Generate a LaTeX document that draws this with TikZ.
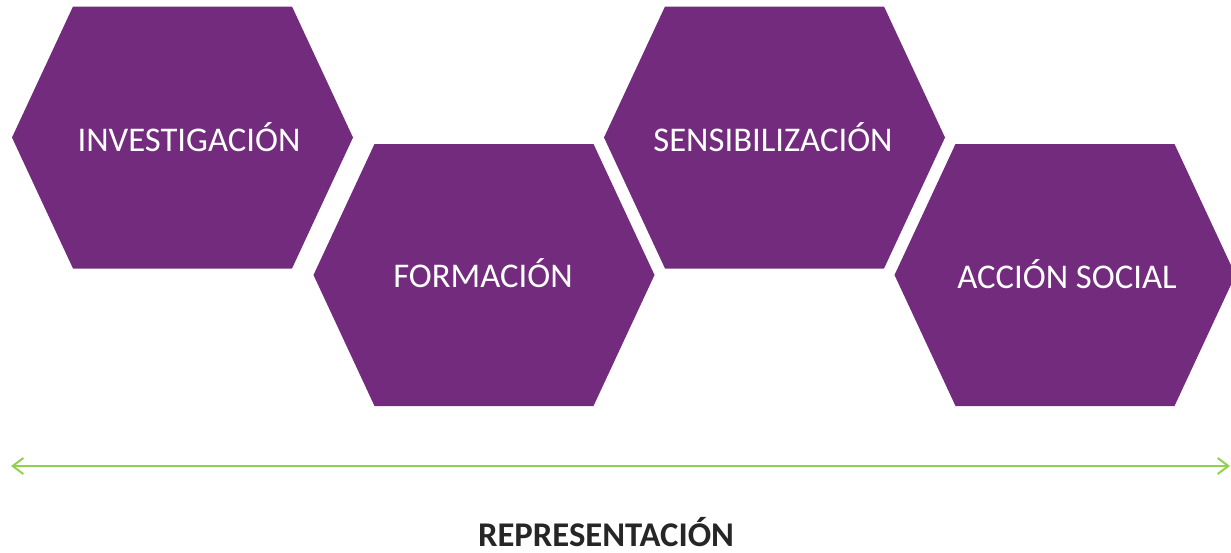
\documentclass[tikz,border=0pt]{standalone}
\usepackage{fontspec}
\setmainfont{Carlito}
\usetikzlibrary{arrows.meta}

\definecolor{hexpurple}{RGB}{114,43,125}
\definecolor{linegreen}{RGB}{146,208,80}

\tikzset{
  hexfill/.style={fill=hexpurple},
  hexlabel/.style={text=white, font=\fontsize{26}{30}\selectfont},
  axisline/.style={draw=linegreen, line width=1.5pt,
    {Straight Barb[length=8pt,width=12pt,line width=1.5pt]}-{Straight Barb[length=8pt,width=12pt,line width=1.5pt]}},
  axislabel/.style={font=\bfseries\fontsize{26}{30}\selectfont, text=black!85, anchor=base}
}

\begin{document}
\begin{tikzpicture}[x=0.75pt, y=-0.75pt]
  \useasboundingbox (0,0) rectangle (1231,553);
  \begin{scope}
    \clip (0,0) rectangle (1231,553);
    % hexagons
    \foreach \cx/\cy in {182.5/137.5, 484/275, 774.5/137.5, 1065/275} {
      \fill[hexfill] (\cx-170.5,\cy) -- (\cx-109.5,\cy-131) -- (\cx+109.5,\cy-131)
        -- (\cx+170.5,\cy) -- (\cx+109.5,\cy+131) -- (\cx-109.5,\cy+131) -- cycle;
    }
  \end{scope}
  \node[hexlabel] (inv) at (189,137) {INVESTIGACIÓN};
  \node[hexlabel] (form) at (483,273) {FORMACIÓN};
  \node[hexlabel] (sens) at (773,137) {SENSIBILIZACIÓN};
  \node[hexlabel] (acc) at (1067,274) {ACCIÓN SOCIAL};
  % axis
  \coordinate (left) at (11,466);
  \coordinate (right) at (1230,466);
  \draw[axisline] (left) -- (right);
  \node[axislabel] (repr) at (606,546) {REPRESENTACIÓN};
\end{tikzpicture}
\end{document}
